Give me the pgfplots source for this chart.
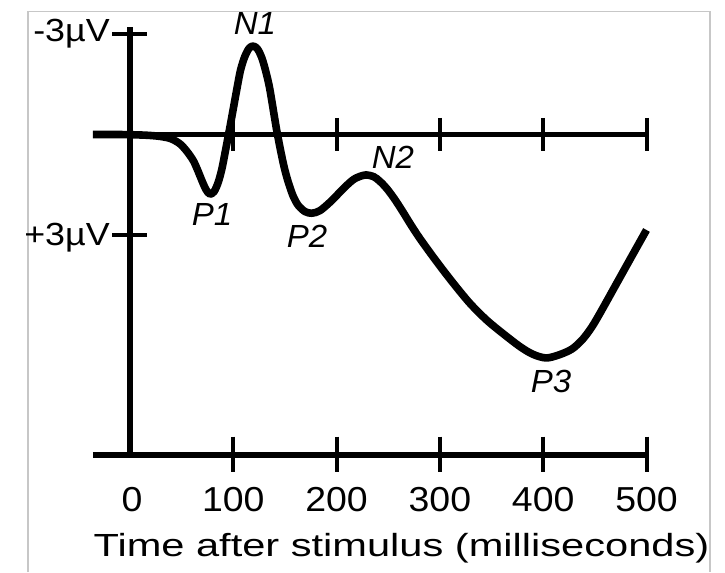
\documentclass[border=0pt]{standalone}
\usepackage{pgfplots}
\pgfplotsset{compat=1.18}
\usepackage{pgfplotstable}
\usepackage{fontspec}
\setmainfont{Liberation Sans}
\usepackage{graphicx}

\pgfplotstableread{
ms uv
-36 0
-10 0
15 0.02
30 0.06
40 0.13
48.4 0.28
55 0.50
61.3 0.78
66 1.10
69.4 1.36
73.5 1.64
77.4 1.78
81.5 1.70
85.5 1.42
89 1.02
92 0.55
96.8 -0.23
103.3 -1.33
107 -1.92
111.3 -2.34
115.5 -2.58
119.4 -2.64
123.5 -2.55
127.5 -2.30
131.5 -1.88
135.5 -1.33
142 -0.13
148.4 0.86
153 1.40
158.1 1.85
163 2.12
169.4 2.30
176 2.35
184 2.27
195 1.98
207 1.60
217 1.33
227.5 1.21
236 1.26
242 1.40
248.5 1.61
256 1.92
264 2.30
272 2.70
281 3.12
297 3.80
313 4.44
329.1 5.04
345.3 5.54
361.4 5.95
377.5 6.33
390 6.56
403 6.67
416 6.57
428 6.40
438 6.12
447 5.75
456 5.28
471 4.45
486 3.62
500 2.85
}\erp

\newcommand{\tl}[1]{\fontsize{26}{30}\selectfont\scalebox{1.08}[1]{#1}}
\newcommand{\ul}[1]{\fontsize{24}{28}\selectfont\scalebox{1.12}[1]{#1}}
\newcommand{\pk}[1]{\fontsize{24}{28}\selectfont\itshape\scalebox{1.03}[1]{#1}}

\begin{document}
\begin{tikzpicture}
\path[use as bounding box] (-69.6pt,-87.75pt) rectangle (474.15pt,341.25pt);
\begin{axis}[
  at={(0pt,0pt)}, anchor=south west,
  scale only axis,
  width=415.275pt, height=320.775pt,
  xmin=-36, xmax=500,
  ymin=-3.2, ymax=9.567,
  y dir=reverse,
  axis lines=none,
  clip=false,
]
% light frame
\draw[black!22, line width=0.9pt] (axis cs:-98.7,13.06) -- (axis cs:-98.7,-3.66) -- (axis cs:561.5,-3.66) -- (axis cs:561.5,13.06);
% axes
\draw[line width=3.9pt] (axis cs:0,-3.2) -- (axis cs:0,9.567);
\draw[line width=3.9pt] (axis cs:-36,0) -- (axis cs:500,0);
\draw[line width=3.9pt] (axis cs:-36,9.567) -- (axis cs:500,9.567);
% ticks
\pgfplotsinvokeforeach{100,200,300,400,500}{
  \draw[line width=3pt] (axis cs:#1,-0.5) -- (axis cs:#1,0.5);
  \draw[line width=3pt] (axis cs:#1,9.02) -- (axis cs:#1,10.07);
  \node[anchor=center, inner sep=0pt] at (axis cs:#1,10.91) {\tl{#1}};
}
\node[anchor=center, inner sep=0pt] at (axis cs:2,10.91) {\tl{0}};
\draw[line width=3pt] (axis cs:-17,-3) -- (axis cs:16.5,-3);
\draw[line width=3pt] (axis cs:-17,3) -- (axis cs:16.5,3);
\node[anchor=base east, inner sep=0pt] at (axis cs:-19.4,-2.78) {\ul{-3µV}};
\node[anchor=base east, inner sep=0pt] at (axis cs:-19.4,3.32) {\ul{+3µV}};
% axis label
\node[anchor=base, inner sep=0pt] at (axis cs:262.8,12.61) {\fontsize{24}{28}\selectfont\scalebox{1.3}[1]{Time after stimulus (milliseconds)}};
% curve
\addplot[black, line width=5.7pt, smooth, tension=0.5, line join=round, line cap=butt] table[x=ms, y=uv] {\erp};
% peak labels
\node[inner sep=0pt] at (axis cs:121,-3.30) {\pk{N1}};
\node[inner sep=0pt] at (axis cs:79.4,2.40) {\pk{P1}};
\node[inner sep=0pt] at (axis cs:171.3,3.03) {\pk{P2}};
\node[inner sep=0pt] at (axis cs:254.6,0.67) {\pk{N2}};
\node[inner sep=0pt] at (axis cs:407.5,7.36) {\pk{P3}};
\end{axis}
\end{tikzpicture}
\end{document}
